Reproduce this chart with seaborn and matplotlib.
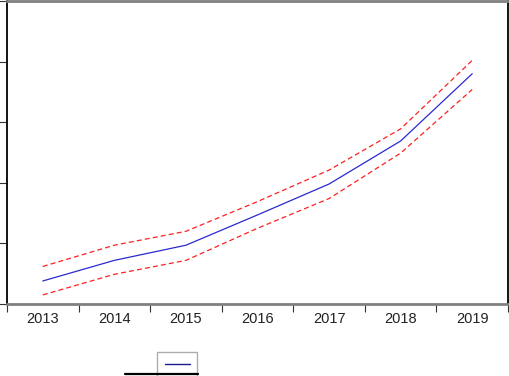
import matplotlib
matplotlib.use("Agg")
import matplotlib.pyplot as plt
from matplotlib.lines import Line2D
import seaborn as sns
import pandas as pd
import numpy as np

# valeurs
years = ["2013", "2014", "2015", "2016", "2017", "2018", "2019"]
forecast = [0.38, 0.72, 0.97, 1.47, 1.98, 2.69, 3.80]
upper = [0.62, 0.97, 1.20, 1.69, 2.21, 2.89, 4.02]
lower = [0.15, 0.49, 0.72, 1.25, 1.74, 2.49, 3.54]

pos = np.arange(len(years))
df = pd.DataFrame({
    "pos": np.tile(pos, 3),
    "val": forecast + upper + lower,
    "serie": ["forecast"] * 7 + ["upper"] * 7 + ["lower"] * 7,
})

sns.set_style("white")
plt.rcParams['font.family'] = ['Liberation Sans', 'DejaVu Sans']

fig = plt.figure(figsize=(5.09, 3.76), dpi=100)
ax = fig.add_axes([7 / 509, 72 / 376, 501 / 509, 303 / 376])

sns.lineplot(data=df[df.serie == "forecast"], x="pos", y="val", color="#2a2ad0",
             lw=0.9, ax=ax, legend=False)
for s in ["upper", "lower"]:
    sns.lineplot(data=df[df.serie == s], x="pos", y="val", color="#ff2020",
                 lw=0.9, ax=ax, legend=False, dashes=False, linestyle=(0, (4, 2.5)))

ax.set_xlim(-0.5, 6.5)
ax.set_ylim(0, 5)
ax.set_xlabel("")
ax.set_ylabel("")

ax.set_xticks(np.arange(-0.5, 7, 1))
ax.set_xticklabels([])
ax.set_xticks(pos, minor=True)
ax.set_xticklabels(years, minor=True, fontsize=10.5, color="#222222")
ax.tick_params(axis="x", which="major", direction="out", length=6, width=0.8, color="#333333", bottom=True)
ax.tick_params(axis="x", which="minor", length=0, pad=6)
ax.set_yticks(np.arange(0, 6, 1))
ax.set_yticklabels([])
ax.tick_params(axis="y", direction="out", length=6, width=0.8, color="#333333", left=True)

ax.spines["left"].set_color("black")
ax.spines["left"].set_linewidth(1.3)
ax.spines["right"].set_color("black")
ax.spines["right"].set_linewidth(1.3)
ax.spines["top"].set_color("#808080")
ax.spines["top"].set_linewidth(2)
ax.spines["bottom"].set_color("#808080")
ax.spines["bottom"].set_linewidth(2)

# légende coupée en bas
handle = Line2D([], [], color="#1a1a90", lw=1.0)
leg = fig.legend([handle], [""], loc="lower left", bbox_to_anchor=(151 / 509, -0.025),
                 frameon=True, fancybox=False, handlelength=2.0, borderpad=0.6,
                 handletextpad=0.0, fontsize=9)
leg.get_frame().set_edgecolor("#999999")
leg.get_frame().set_linewidth(1.0)
fig.add_artist(Line2D([125 / 509, 198 / 509], [2.5 / 376, 2.5 / 376], color="black", lw=1.6,
                      transform=fig.transFigure, zorder=10))

fig.savefig("out.png", dpi=100)
